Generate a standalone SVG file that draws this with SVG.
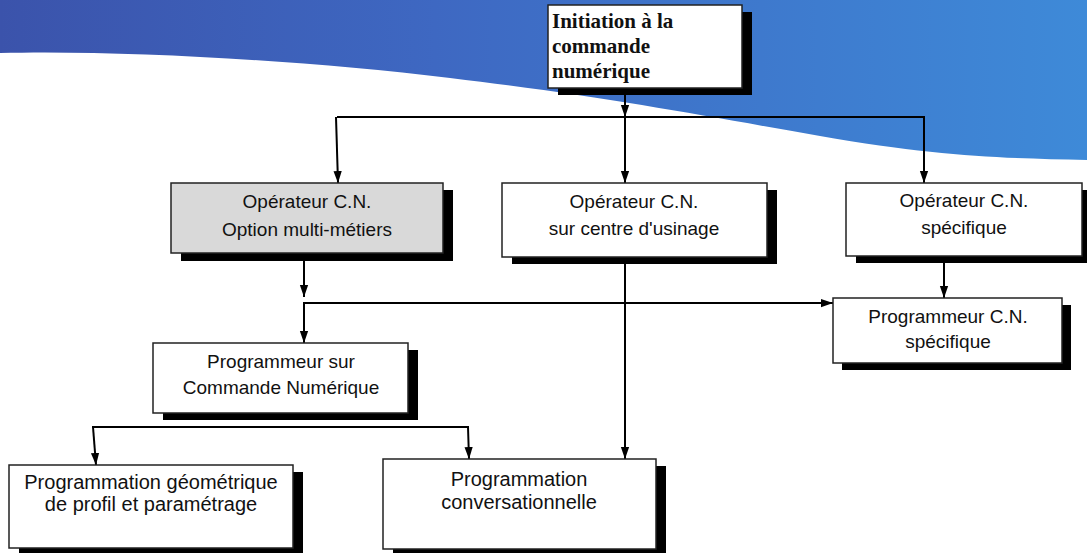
<svg xmlns="http://www.w3.org/2000/svg" width="1087" height="553" viewBox="0 0 1087 553">
<defs>
<linearGradient id="bg" x1="0" y1="0" x2="1" y2="0">
<stop offset="0" stop-color="#3b53ab"/>
<stop offset="0.4" stop-color="#3e68c2"/>
<stop offset="1" stop-color="#3e8ad8"/>
</linearGradient>
<marker id="ah" markerUnits="userSpaceOnUse" markerWidth="12" markerHeight="18" refX="16" refY="5.5" viewBox="0 0 16 11" orient="auto">
<path d="M0,0 L16,5.5 L0,11 Z" fill="#000"/>
</marker>
<style>
.box{fill:#fff;stroke:#222;stroke-width:1.5}
.grey{fill:#d9d9d9}
.sh{fill:#000}
.t{font-family:"Liberation Sans",Arial,sans-serif;font-size:19px;fill:#111;text-anchor:middle}
.tb{font-size:20px}
.ts{font-family:"Liberation Serif","Times New Roman",serif;font-size:21px;font-weight:bold;fill:#111}
.c{fill:none;stroke:#000;stroke-width:2}
.a{marker-end:url(#ah)}
</style>
</defs>
<rect width="1087" height="553" fill="#fff"/>
<path d="M0,53 C120,50 300,60 450,78 S700,115 820,136 S1000,158 1087,160 V0 H0 Z" fill="url(#bg)"/>

<g id="connectors">
<line class="c a" x1="625" y1="88" x2="625" y2="117"/>
<line class="c" x1="337" y1="117" x2="925" y2="117" stroke-width="2.5"/>
<line class="c a" x1="336" y1="117" x2="338" y2="183"/>
<line class="c a" x1="625" y1="117" x2="625" y2="183"/>
<line class="c a" x1="924" y1="117" x2="924" y2="183"/>
<line class="c a" x1="304" y1="261" x2="304" y2="297"/>
<line class="c a" x1="304" y1="303" x2="304" y2="343"/>
<line class="c a" x1="303" y1="303" x2="833" y2="303"/>
<line class="c a" x1="944" y1="263" x2="944" y2="298"/>
<line class="c a" x1="625" y1="264" x2="625" y2="459"/>
<line class="c" x1="92" y1="427" x2="469" y2="427"/>
<line class="c a" x1="93" y1="427" x2="96" y2="465"/>
<line class="c a" x1="468" y1="427" x2="469" y2="459"/>
</g>

<g id="n-initiation">
<rect class="sh" x="558" y="12" width="194" height="83"/>
<rect class="box" x="548" y="5" width="194" height="83"/>
<text class="ts" x="552" y="28">Initiation à la</text>
<text class="ts" x="552" y="53">commande</text>
<text class="ts" x="552" y="78">numérique</text>
</g>

<g id="n-op-multi">
<rect class="sh" x="181" y="190" width="272" height="71"/>
<rect class="box grey" x="171" y="183" width="272" height="70"/>
<text class="t" x="307" y="208">Opérateur C.N.</text>
<text class="t" x="307" y="236">Option multi-métiers</text>
</g>

<g id="n-op-usinage">
<rect class="sh" x="512" y="190" width="265" height="74"/>
<rect class="box" x="502" y="183" width="265" height="74"/>
<text class="t" x="634" y="208">Opérateur C.N.</text>
<text class="t" x="634" y="235">sur centre d'usinage</text>
</g>

<g id="n-op-specifique">
<rect class="sh" x="856" y="190" width="236" height="73"/>
<rect class="box" x="846" y="183" width="236" height="73"/>
<text class="t" x="964" y="207">Opérateur C.N.</text>
<text class="t" x="964" y="234">spécifique</text>
</g>

<g id="n-prog-specifique">
<rect class="sh" x="842" y="305" width="229" height="65"/>
<rect class="box" x="833" y="298" width="229" height="65"/>
<text class="t" x="948" y="323">Programmeur C.N.</text>
<text class="t" x="948" y="348">spécifique</text>
</g>

<g id="n-prog-cn">
<rect class="sh" x="163" y="350" width="255" height="70"/>
<rect class="box" x="153" y="343" width="255" height="70"/>
<text class="t" x="281" y="368">Programmeur sur</text>
<text class="t" x="281" y="394">Commande Numérique</text>
</g>

<g id="n-prog-geo">
<rect class="sh" x="19" y="472" width="284" height="83"/>
<rect class="box" x="9" y="465" width="284" height="83"/>
<text class="t tb" x="151" y="489">Programmation géométrique</text>
<text class="t tb" x="151" y="511">de profil et paramétrage</text>
</g>

<g id="n-prog-conv">
<rect class="sh" x="393" y="466" width="273" height="90"/>
<rect class="box" x="383" y="459" width="273" height="90"/>
<text class="t tb" x="519" y="486">Programmation</text>
<text class="t tb" x="519" y="509">conversationnelle</text>
</g>
</svg>
